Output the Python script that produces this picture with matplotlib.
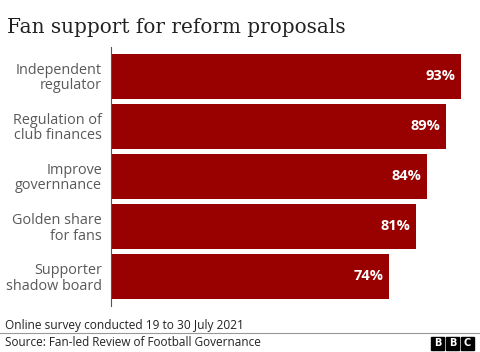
import matplotlib.pyplot as plt
from matplotlib.patches import Rectangle

categories = ["Independent\nregulator", "Regulation of\nclub finances", "Improve\ngovernnance",
              "Golden share\nfor fans", "Supporter\nshadow board"]
values = [93, 89, 84, 81, 74]
value_labels = ["93%", "89%", "84%", "81%", "74%"]

W, H = 480, 352
fig = plt.figure(figsize=(W / 100, H / 100), dpi=100)

# plot area: left spine at x=111px, from y=47 to y=306
ax = fig.add_axes([111 / W, 1 - 306 / H, (W - 111) / W, (306 - 47) / H])
ypos = list(range(len(values)))
ax.barh(ypos, values, height=0.9, color="#990000", edgecolor="none")
ax.set_xlim(0, (W - 111) / 3.76)
ax.set_ylim(len(values) - 0.41, -0.59)
ax.set_xticks([])
ax.set_yticks(ypos)
ax.set_yticklabels(categories, fontsize=10.4, color="#595959", family="Open Sans",
                   linespacing=1.0)
ax.tick_params(axis="y", length=0, pad=6.5)
for s in ["top", "right", "bottom"]:
    ax.spines[s].set_visible(False)
ax.spines["left"].set_color("#555555")
ax.spines["left"].set_linewidth(0.8)

for y, v, lab in zip(ypos, values, value_labels):
    ax.text(v - 1.5, y, lab, ha="right", va="center", color="white",
            fontsize=10.5, fontweight="bold", family="Open Sans")

fig.text(7 / W, 1 - 33 / H, "Fan support for reform proposals", fontsize=14.4,
         family="DejaVu Serif", color="#222222", va="baseline")

fig.text(5 / W, 1 - 325 / H, "Online survey conducted 19 to 30 July 2021", fontsize=8.6,
         family="Open Sans", color="#222222", va="center")
fig.add_artist(plt.Line2D([0, 1], [1 - 333 / H, 1 - 333 / H], color="#999999", lw=0.8,
                          transform=fig.transFigure))
fig.text(5 / W, 1 - 343 / H, "Source: Fan-led Review of Football Governance", fontsize=8.5,
         family="Open Sans", color="#222222", va="center")

# BBC blocks
for i, letter in enumerate("BBC"):
    x0 = 431 + i * 15
    fig.add_artist(Rectangle((x0 / W, 1 - 350 / H), 13 / W, 13 / H, color="black",
                             transform=fig.transFigure))
    fig.text((x0 + 6.5) / W, 1 - 343.5 / H, letter, fontsize=7, fontweight="bold",
             color="white", ha="center", va="center", family="DejaVu Sans")

fig.savefig("out.png", dpi=100, facecolor="white")
